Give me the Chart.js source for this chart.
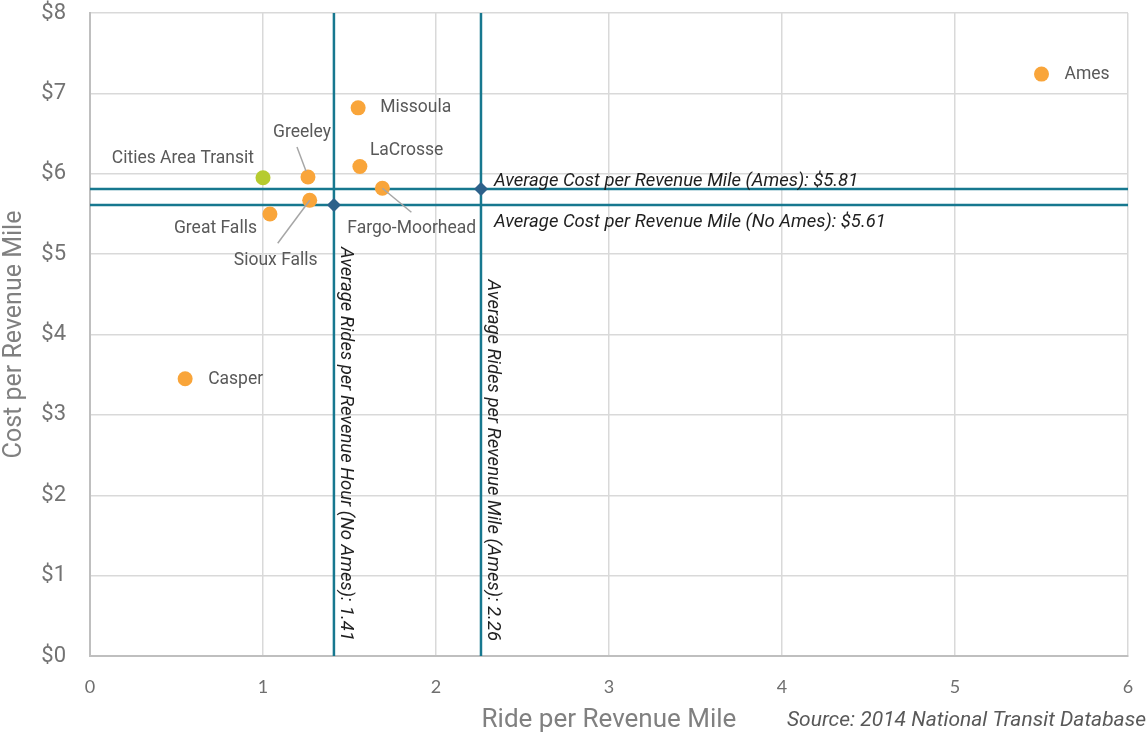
<!DOCTYPE html>
<html>
<head>
<meta charset="utf-8">
<script src="https://cdn.jsdelivr.net/npm/chart.js@4/dist/chart.umd.min.js"></script>
<style>
  html, body { margin: 0; padding: 0; background: #ffffff; }
  #wrap { width: 1146px; height: 736px; position: relative; }
</style>
</head>
<body>
<div id="wrap"><canvas id="c" width="1146" height="736"></canvas></div>
<script>
// Transit systems: rides and cost per revenue mile
const cities = ['Ames', 'Missoula', 'LaCrosse', 'Greeley', 'Cities Area Transit',
                'Fargo-Moorhead', 'Sioux Falls', 'Great Falls', 'Casper'];
const ridesPerMile = [5.50, 1.55, 1.56, 1.26, 1.00, 1.69, 1.27, 1.04, 0.55];
const costPerMile  = [7.24, 6.82, 6.09, 5.96, 5.95, 5.82, 5.67, 5.50, 3.45];
const highlighted = 'Cities Area Transit';

// Peer averages
const avgCostAmes = 5.81;
const avgCostNoAmes = 5.61;
const avgRidesNoAmes = 1.41;
const avgRidesAmes = 2.26;

// Axis ticks
const xTicks = [0, 1, 2, 3, 4, 5, 6];
const yTicks = [0, 1, 2, 3, 4, 5, 6, 7, 8];

const ORANGE = '#f9a53a';
const GREEN = '#b6cb2f';
const TEAL = '#17788f';
const NAVY = '#2d618a';
const FONT = 'Roboto, "DejaVu Sans", sans-serif';

// Label placement around each marker (pixel offsets), with optional leader lines
const labelPlacement = {
  'Ames':                { dx: 23,  dy: 1,   align: 'left' },
  'Missoula':            { dx: 22,  dy: 0,   align: 'left' },
  'LaCrosse':            { dx: 10,  dy: -16, align: 'left' },
  'Greeley':             { dx: -6,  dy: -44, align: 'center', leader: [[-11, -30], [-2, -6]] },
  'Cities Area Transit': { dx: -9,  dy: -19, align: 'right' },
  'Fargo-Moorhead':      { dx: -35, dy: 40,  align: 'left',  leader: [[0, 0], [29, 24]] },
  'Sioux Falls':         { dx: -34, dy: 60,  align: 'center', leader: [[0, 0], [-32, 43]] },
  'Great Falls':         { dx: -13, dy: 15,  align: 'right' },
  'Casper':              { dx: 23,  dy: 1,   align: 'left' }
};

const orangePts = [], greenPts = [];
cities.forEach((c, i) => {
  const p = { x: ridesPerMile[i], y: costPerMile[i] };
  (c === highlighted ? greenPts : orangePts).push(p);
});

const lineStyle = { showLine: true, borderColor: TEAL, borderWidth: 2.5, pointRadius: 0, fill: false, order: 5 };

const annotationPlugin = {
  id: 'annotations',
  afterDatasetsDraw(chart) {
    const { ctx, scales: { x, y } } = chart;
    ctx.save();

    // leader lines
    ctx.strokeStyle = '#a6a6a6';
    ctx.lineWidth = 1.5;
    cities.forEach((c, i) => {
      const pl = labelPlacement[c];
      if (!pl.leader) return;
      const px = x.getPixelForValue(ridesPerMile[i]);
      const py = y.getPixelForValue(costPerMile[i]);
      ctx.beginPath();
      ctx.moveTo(px + pl.leader[0][0], py + pl.leader[0][1]);
      ctx.lineTo(px + pl.leader[1][0], py + pl.leader[1][1]);
      ctx.stroke();
    });

    // city labels
    ctx.font = '17.5px ' + FONT;
    ctx.fillStyle = '#595959';
    ctx.textBaseline = 'middle';
    cities.forEach((c, i) => {
      const pl = labelPlacement[c];
      const px = x.getPixelForValue(ridesPerMile[i]);
      const py = y.getPixelForValue(costPerMile[i]);
      ctx.textAlign = pl.align;
      ctx.fillText(c, px + pl.dx, py + pl.dy);
    });

    // average cost labels
    ctx.font = 'italic 18.5px ' + FONT;
    ctx.fillStyle = '#1f1f1f';
    ctx.textAlign = 'left';
    const lx = x.getPixelForValue(avgRidesAmes) + 13;
    ctx.fillText('Average Cost per Revenue Mile (Ames): $' + avgCostAmes.toFixed(2),
                 lx, y.getPixelForValue(avgCostAmes) - 8);
    ctx.fillText('Average Cost per Revenue Mile (No Ames): $' + avgCostNoAmes.toFixed(2),
                 lx, y.getPixelForValue(avgCostNoAmes) + 17);

    // average rides labels, rotated along the vertical lines
    const drawVertical = (text, val) => {
      ctx.save();
      ctx.translate(x.getPixelForValue(val) + 12, y.getPixelForValue(0) - 15);
      ctx.rotate(Math.PI / 2);
      ctx.textAlign = 'right';
      ctx.textBaseline = 'middle';
      ctx.fillText(text, 0, 0);
      ctx.restore();
    };
    drawVertical('Average Rides per Revenue Hour (No Ames): ' + avgRidesNoAmes.toFixed(2), avgRidesNoAmes);
    drawVertical('Average Rides per Revenue Mile (Ames): ' + avgRidesAmes.toFixed(2), avgRidesAmes);

    // source note
    ctx.font = 'italic 21px ' + FONT;
    ctx.fillStyle = '#595959';
    ctx.textAlign = 'right';
    ctx.fillText('Source: 2014 National Transit Database', 1146, 721);

    ctx.restore();
  }
};

new Chart(document.getElementById('c'), {
  type: 'scatter',
  data: {
    datasets: [
      { label: 'Systems', data: orangePts, backgroundColor: ORANGE, borderColor: ORANGE,
        pointRadius: 7.5, pointHoverRadius: 7.5, borderWidth: 0, order: 0 },
      { label: highlighted, data: greenPts, backgroundColor: GREEN, borderColor: GREEN,
        pointRadius: 7.5, pointHoverRadius: 7.5, borderWidth: 0, order: 0 },
      { label: 'Averages', data: [{ x: avgRidesNoAmes, y: avgCostNoAmes }, { x: avgRidesAmes, y: avgCostAmes }],
        pointStyle: 'rectRot', pointRadius: 7, pointHoverRadius: 7, backgroundColor: NAVY,
        borderColor: NAVY, borderWidth: 0, order: 1 },
      Object.assign({ label: 'avgCostAmes', data: [{ x: 0, y: avgCostAmes }, { x: 6, y: avgCostAmes }] }, lineStyle),
      Object.assign({ label: 'avgCostNoAmes', data: [{ x: 0, y: avgCostNoAmes }, { x: 6, y: avgCostNoAmes }] }, lineStyle),
      Object.assign({ label: 'avgRidesNoAmes', data: [{ x: avgRidesNoAmes, y: 0 }, { x: avgRidesNoAmes, y: 8 }] }, lineStyle),
      Object.assign({ label: 'avgRidesAmes', data: [{ x: avgRidesAmes, y: 0 }, { x: avgRidesAmes, y: 8 }] }, lineStyle)
    ]
  },
  options: {
    responsive: false,
    animation: false,
    devicePixelRatio: 1,
    layout: { padding: { top: 13, right: 18, left: 0, bottom: 0 } },
    plugins: { legend: { display: false }, tooltip: { enabled: false } },
    events: [],
    scales: {
      x: {
        type: 'linear', min: 0, max: 6,
        afterBuildTicks: s => { s.ticks = xTicks.map(v => ({ value: v })); },
        afterFit: s => { s.height = 80; s.paddingLeft = 0; s.paddingRight = 0; },
        grid: { color: '#d9d9d9', lineWidth: 1.5, drawTicks: false },
        border: { color: '#bfbfbf', width: 2 },
        ticks: { padding: 20, color: '#6f6f6f', font: { family: 'Lato, ' + FONT, size: 18 } },
        title: { display: true, text: 'Ride per Revenue Mile', color: '#808080',
                 font: { family: FONT, size: 26 }, padding: { top: 0, bottom: 0 } }
      },
      y: {
        type: 'linear', min: 0, max: 8,
        afterBuildTicks: s => { s.ticks = yTicks.map(v => ({ value: v })); },
        afterFit: s => { s.width = 90; s.paddingTop = 0; s.paddingBottom = 0; },
        grid: { color: '#d9d9d9', lineWidth: 1.5, drawTicks: false },
        border: { color: '#bfbfbf', width: 2 },
        ticks: { padding: 24, color: '#737373', font: { family: FONT, size: 22, lineHeight: 1 },
                 callback: v => '$' + v },
        title: { display: true, text: 'Cost per Revenue Mile', color: '#808080',
                 font: { family: FONT, size: 25 }, padding: { top: 0, bottom: 0 } }
      }
    }
  },
  plugins: [annotationPlugin]
});
</script>
</body>
</html>
